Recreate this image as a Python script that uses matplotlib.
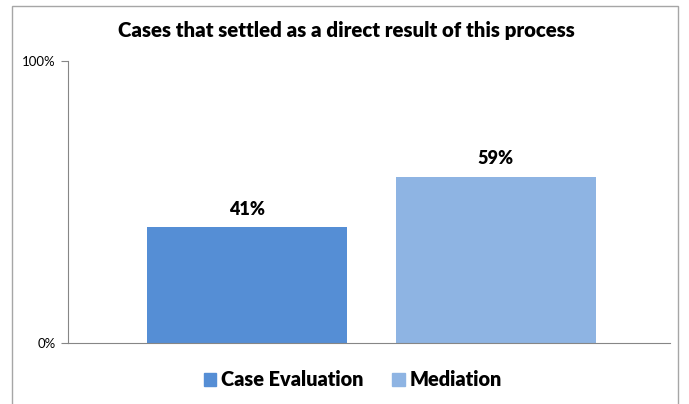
import matplotlib
matplotlib.use("Agg")
import matplotlib.pyplot as plt
from matplotlib.patches import Rectangle, Patch

plt.rcParams['font.family'] = ['Lato', 'DejaVu Sans']

series = ["Case Evaluation", "Mediation"]
values = [41, 59]
labels = ["41%", "59%"]
colors = ["#558ED5", "#8EB4E3"]

fig = plt.figure(figsize=(6.89, 4.04), dpi=100)
# outer frame of the chart
fig.patches.append(Rectangle((12/689, -0.05), (678-12)/689, 1.05 - 6/404,
                             transform=fig.transFigure, fill=False,
                             edgecolor="#a6a6a6", linewidth=1))

ax = fig.add_axes([68/689, 1-343/404, (670-68)/689, (343-61)/404])
pos = [0, 1]
bars = ax.bar(pos, values, width=0.803, color=colors)
for b, lab in zip(bars, labels):
    ax.text(b.get_x() + b.get_width()/2, b.get_height() + 3.5, lab,
            ha="center", va="bottom", fontsize=13, fontweight="heavy")

ax.set_xlim(-0.72, 1.70)
ax.set_ylim(0, 100)
ax.set_yticks([0, 100])
ax.set_yticklabels(["0%", "100%"], fontsize=9.5)
ax.set_xticks([])
for s in ["top", "right"]:
    ax.spines[s].set_visible(False)
for s in ["left", "bottom"]:
    ax.spines[s].set_color("#868686")
ax.tick_params(axis="y", color="#868686", length=5, pad=4)

fig.text(0.503, 1-30/404, "Cases that settled as a direct result of this process",
         ha="center", va="center", fontsize=14.7, fontweight="heavy")

handles = [Patch(color=c) for c in colors]
fig.legend(handles, series, loc="center", bbox_to_anchor=(0.512, 1-380/404),
           ncol=2, frameon=False, handlelength=0.65, handleheight=0.65,
           handletextpad=0.25, columnspacing=1.4,
           prop={"size": 14.3, "weight": "heavy"})

fig.savefig("out.png", dpi=100)
